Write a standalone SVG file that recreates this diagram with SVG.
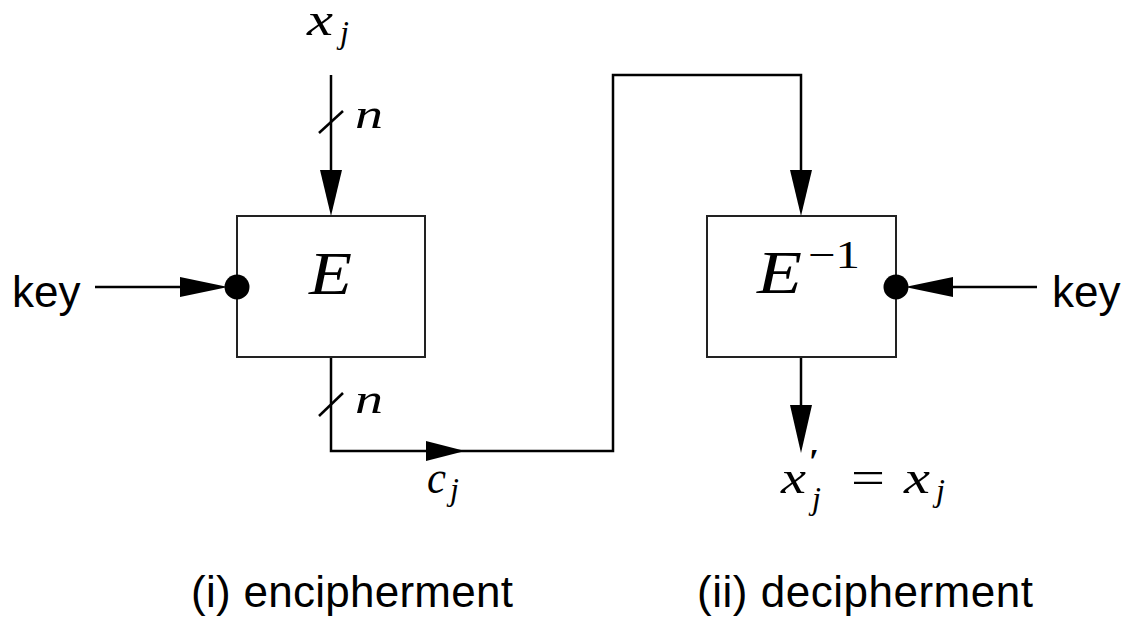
<svg xmlns="http://www.w3.org/2000/svg" width="1124" height="621" viewBox="0 0 1124 621">
<style>
.ln{fill:none;stroke:#000;stroke-width:2.5;stroke-linejoin:miter}
.box{fill:#fff;stroke:#222;stroke-width:2}
.ah{fill:#000;stroke:none}
.sans{font-family:"Liberation Sans",Arial,sans-serif;fill:#000}
.m{font-family:"Liberation Serif","Times New Roman",serif;font-style:italic;fill:#000}
.r{font-family:"Liberation Serif","Times New Roman",serif;fill:#000}
</style>
<rect width="1124" height="621" fill="#fff"/>
<g id="connectors">
<line class="ln" x1="331" y1="75" x2="331" y2="200"/>
<line class="ln" x1="319" y1="133" x2="343" y2="111"/>
<polygon class="ah" points="331,216 320,170 342,170"/>
<line class="ln" x1="95" y1="287" x2="210" y2="287"/>
<polygon class="ah" points="228,287 180,277 180,297"/>
<polyline class="ln" points="331,357 331,451 613,451 613,75 801,75 801,200"/>
<line class="ln" x1="319" y1="416" x2="343" y2="393"/>
<polygon class="ah" points="465,451 426,441 426,461"/>
<polygon class="ah" points="801,216 790,170 812,170"/>
<line class="ln" x1="925" y1="287" x2="1037" y2="287"/>
<polygon class="ah" points="905,287 953,277 953,297"/>
<line class="ln" x1="801" y1="357" x2="801" y2="420"/>
<polygon class="ah" points="801,453 790,405 812,405"/>
</g>
<g id="node-E">
<rect class="box" x="237" y="216" width="188" height="141"/>
<text class="m" x="309" y="294" font-size="62" textLength="43" lengthAdjust="spacingAndGlyphs">E</text>
<circle cx="237" cy="287" r="12.5" fill="#000"/>
</g>
<g id="node-Einv">
<rect class="box" x="707" y="216" width="189" height="141"/>
<text class="m" x="757" y="293" font-size="62" textLength="45" lengthAdjust="spacingAndGlyphs">E</text>
<text class="r" x="808" y="268" font-size="40" textLength="52" lengthAdjust="spacingAndGlyphs">−1</text>
<circle cx="896" cy="287" r="12.5" fill="#000"/>
</g>
<g id="labels">
<text class="sans" x="12" y="307" font-size="44">key</text>
<text class="sans" x="1052" y="307" font-size="44">key</text>
<text class="m" x="307" y="35" font-size="46" textLength="26" lengthAdjust="spacingAndGlyphs">x</text>
<text class="m" x="340" y="43" font-size="32">j</text>
<text class="m" x="355" y="128" font-size="42" textLength="28" lengthAdjust="spacingAndGlyphs">n</text>
<text class="m" x="355" y="413" font-size="42" textLength="28" lengthAdjust="spacingAndGlyphs">n</text>
<text class="m" x="427" y="493" font-size="46" textLength="19" lengthAdjust="spacingAndGlyphs">c</text>
<text class="m" x="450" y="500" font-size="32">j</text>
<text class="m" x="781" y="493" font-size="46" textLength="25" lengthAdjust="spacingAndGlyphs">x</text>
<text class="r" x="809" y="474" font-size="36" font-weight="bold">′</text>
<text class="m" x="812" y="509" font-size="32">j</text>
<text class="r" x="851" y="493" font-size="46" textLength="34" lengthAdjust="spacingAndGlyphs">=</text>
<text class="m" x="904" y="493" font-size="46" textLength="26" lengthAdjust="spacingAndGlyphs">x</text>
<text class="m" x="936" y="501" font-size="32">j</text>
<text class="sans" x="191" y="607" font-size="44" textLength="322">(i) encipherment</text>
<text class="sans" x="697" y="607" font-size="44" textLength="336">(ii) decipherment</text>
</g>
</svg>
